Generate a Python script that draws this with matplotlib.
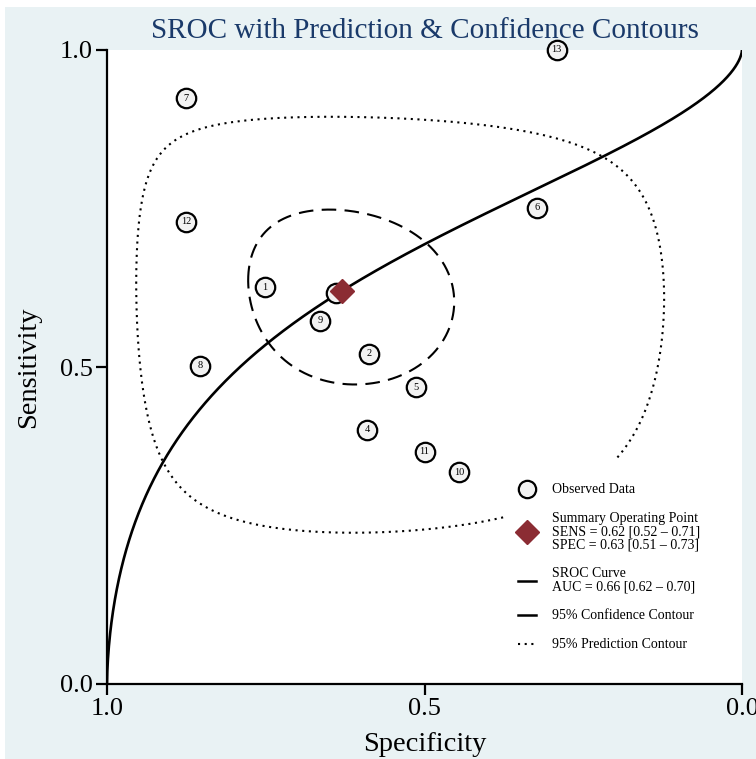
import numpy as np
import matplotlib
matplotlib.use("Agg")
import matplotlib.pyplot as plt
from matplotlib.lines import Line2D
from matplotlib.patches import Rectangle

plt.rcParams['font.family'] = ['Liberation Serif', 'DejaVu Serif']

# study-level estimates
study_ids = list(range(1, 14))
study_spec = [0.751, 0.587, 0.640, 0.590, 0.514, 0.323, 0.875, 0.853, 0.664,
              0.445, 0.500, 0.875, 0.292]
study_sens = [0.626, 0.521, 0.617, 0.401, 0.468, 0.751, 0.924, 0.502, 0.573,
              0.334, 0.366, 0.729, 1.000]

# summary point
summary_sens = 0.62
summary_spec = 0.63

# SROC curve: logit(sens) = sroc_a + sroc_b * logit(1 - spec)
sroc_a = 0.817
sroc_b = 0.615

# contour half-widths in logit space (spec, sens) and correlation
conf_half = (0.72, 0.60)
conf_rho = 0.12
pred_half = (2.50, 1.65)
pred_rho = 0.03

legend_labels = [
    "Observed Data",
    "Summary Operating Point\nSENS = 0.62 [0.52 \u2013 0.71]\nSPEC = 0.63 [0.51 \u2013 0.73]",
    "SROC Curve\nAUC = 0.66 [0.62 \u2013 0.70]",
    "95% Confidence Contour",
    "95% Prediction Contour",
]

BG = '#e9f2f4'
NAVY = '#1a3a6a'
RED = '#8b2c33'


def logit(p):
    return np.log(p / (1 - p))


def expit(x):
    return 1 / (1 + np.exp(-x))


def contour(half, rho, n=400):
    t = np.linspace(0, 2 * np.pi, n)
    u = logit(summary_spec) + half[0] * np.cos(t)
    v = logit(summary_sens) + half[1] * (rho * np.cos(t) + np.sqrt(1 - rho ** 2) * np.sin(t))
    return expit(u), expit(v)


fig = plt.figure(figsize=(7.56, 7.59), dpi=100, facecolor='white')
fig.patches.append(Rectangle((5 / 756, 0), 1, 752 / 759, transform=fig.transFigure,
                             facecolor=BG, edgecolor='none', zorder=-10))
ax = fig.add_axes([107 / 756, 75 / 759, 635 / 756, 634 / 759])
ax.set_facecolor('white')

# SROC curve
fpr = np.linspace(1e-6, 1 - 1e-6, 2000)
sroc_sens = expit(sroc_a + sroc_b * logit(fpr))
ax.plot(1 - fpr, sroc_sens, color='black', lw=1.9, zorder=3)

# contours
cx, cy = contour(conf_half, conf_rho)
ax.plot(cx, cy, color='black', lw=1.5, linestyle=(0, (7, 4)), zorder=3)
px, py = contour(pred_half, pred_rho)
ax.plot(px, py, color='black', lw=1.5, linestyle=(0, (1, 2.2)), zorder=3)

# observed studies
ax.plot(study_spec, study_sens, linestyle='none', marker='o', markersize=14,
        markerfacecolor='#f2f2f2', markeredgecolor='black', markeredgewidth=1.6,
        zorder=4, clip_on=False)
for i, sx, sy in zip(study_ids, study_spec, study_sens):
    ax.text(sx, sy, str(i), ha='center', va='center', fontsize=7.5, zorder=5,
            clip_on=False)

# summary point
ax.plot([summary_spec], [summary_sens], linestyle='none', marker='D', markersize=12.5,
        color=RED, zorder=6)

ax.set_xlim(1, 0)
ax.set_ylim(0, 1)
ax.set_xticks([1.0, 0.5, 0.0])
ax.set_xticklabels(['1.0', '0.5', '0.0'])
ax.set_yticks([0.0, 0.5, 1.0])
ax.set_yticklabels(['0.0', '0.5', '1.0'])
ax.tick_params(direction='out', length=8, width=1.6, labelsize=19, pad=2)
for side in ['top', 'right']:
    ax.spines[side].set_visible(False)
for side in ['left', 'bottom']:
    ax.spines[side].set_linewidth(1.6)
ax.set_xlabel('Specificity', fontsize=20.5, labelpad=9)
ax.set_ylabel('Sensitivity', fontsize=20.5, labelpad=14)
ax.set_title('SROC with Prediction & Confidence Contours', fontsize=21,
             color=NAVY, pad=9)

# white box behind the key
ax.add_patch(Rectangle((0.627, 0.006), 0.373, 0.347, transform=ax.transAxes,
                       facecolor='white', edgecolor='none', zorder=8))

handles = [
    Line2D([], [], linestyle='none', marker='o', markersize=12.5,
           markerfacecolor='#f2f2f2', markeredgecolor='black', markeredgewidth=1.6),
    Line2D([], [], linestyle='none', marker='D', markersize=12, color=RED),
    Line2D([], [], color='black', lw=1.8),
    Line2D([], [], color='black', lw=1.8),
    Line2D([], [], color='black', lw=1.5, linestyle=(0, (1, 2.2))),
]
leg = ax.legend(handles, legend_labels, loc='upper left',
                bbox_to_anchor=(0.627, 0.336), borderaxespad=0, fontsize=10,
                frameon=False, handlelength=1.3, handletextpad=1.2,
                labelspacing=1.15, borderpad=0.9)
leg.set_zorder(10)
for t in leg.get_texts():
    t.set_linespacing(1.0)

fig.savefig('out.png', dpi=100, facecolor='white')
